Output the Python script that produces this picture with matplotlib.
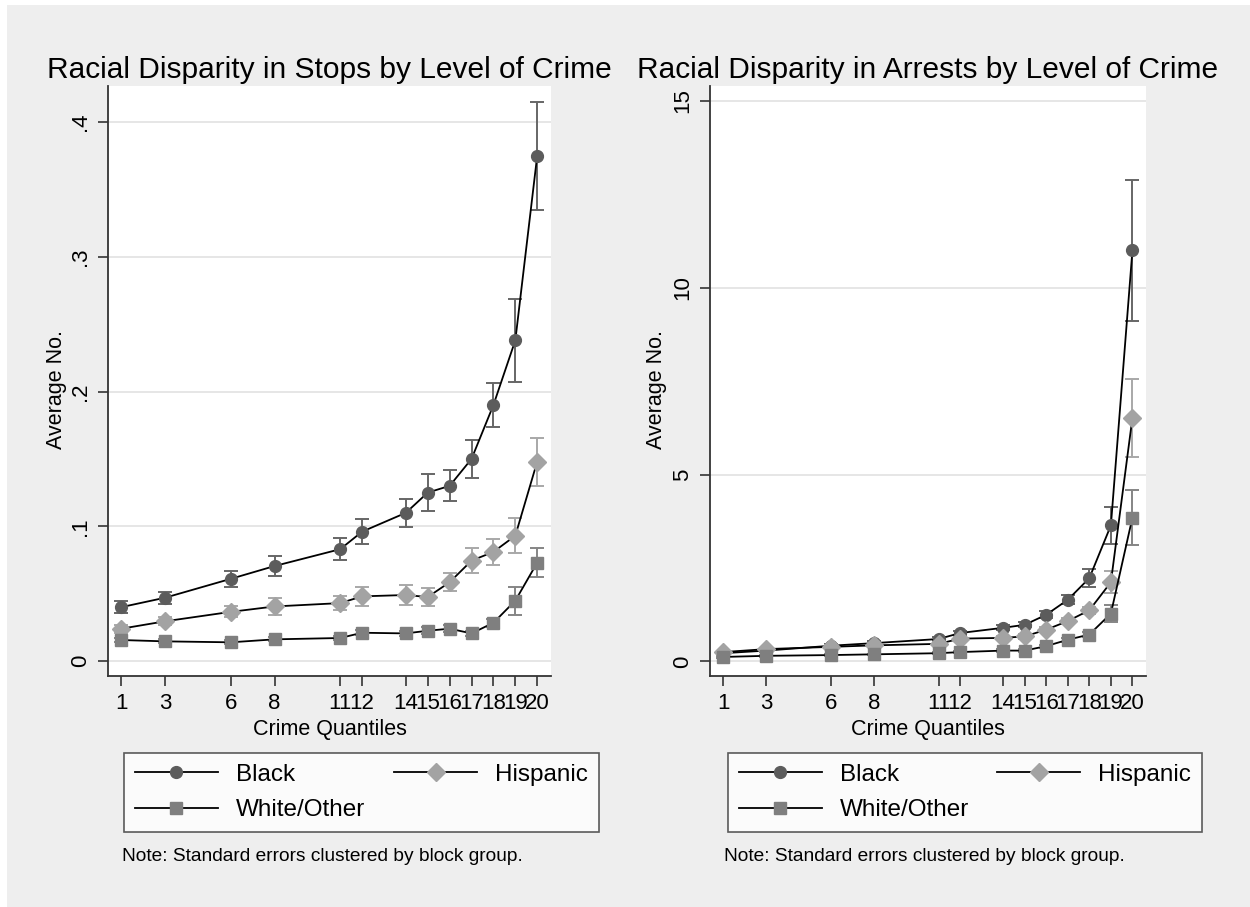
import numpy as np
import matplotlib.pyplot as plt
from matplotlib.lines import Line2D
from matplotlib.patches import Rectangle

plt.rcParams['font.family'] = ['Liberation Sans', 'DejaVu Sans']

quantiles = [1, 3, 6, 8, 11, 12, 14, 15, 16, 17, 18, 19, 20]

# Stops: mean per block group and standard error
stops_black = [0.040, 0.047, 0.061, 0.0705, 0.083, 0.096, 0.110, 0.125, 0.130, 0.150, 0.190, 0.238, 0.375]
stops_black_se = [0.0047, 0.0045, 0.006, 0.0074, 0.0082, 0.0094, 0.0104, 0.0136, 0.0116, 0.0139, 0.0163, 0.031, 0.040]
stops_hisp = [0.024, 0.0295, 0.0365, 0.0405, 0.043, 0.048, 0.049, 0.0475, 0.0585, 0.0745, 0.081, 0.093, 0.148]
stops_hisp_se = [0.003, 0.003, 0.004, 0.006, 0.005, 0.007, 0.0074, 0.007, 0.0067, 0.0094, 0.0099, 0.0129, 0.0178]
stops_white = [0.0156, 0.0146, 0.0139, 0.0161, 0.0171, 0.021, 0.0205, 0.0225, 0.024, 0.0205, 0.0284, 0.0448, 0.073]
stops_white_se = [0.0015, 0.0015, 0.0015, 0.0015, 0.0015, 0.002, 0.002, 0.0025, 0.0025, 0.002, 0.003, 0.0104, 0.011]

# Arrests
arrests_black = [0.22, 0.29, 0.42, 0.49, 0.60, 0.76, 0.90, 0.98, 1.25, 1.65, 2.23, 3.64, 11.0]
arrests_black_se = [0.03, 0.03, 0.04, 0.05, 0.05, 0.06, 0.07, 0.07, 0.09, 0.12, 0.24, 0.49, 1.88]
arrests_hisp = [0.25, 0.33, 0.39, 0.43, 0.47, 0.61, 0.63, 0.67, 0.85, 1.08, 1.37, 2.12, 6.52]
arrests_hisp_se = [0.03, 0.03, 0.04, 0.04, 0.05, 0.05, 0.06, 0.06, 0.07, 0.09, 0.10, 0.29, 1.04]
arrests_white = [0.12, 0.15, 0.17, 0.19, 0.22, 0.25, 0.29, 0.29, 0.41, 0.58, 0.72, 1.28, 3.85]
arrests_white_se = [0.02, 0.02, 0.02, 0.02, 0.03, 0.03, 0.03, 0.03, 0.04, 0.05, 0.06, 0.22, 0.74]

groups = ['Black', 'Hispanic', 'White/Other']
markers = ['o', 'D', 's']
msizes = [8.5, 9.5, 8.5]
mcolors = ['#5c5c5c', '#a3a3a3', '#7f7f7f']
ecolors = ['#666666', '#a8a8a8', '#858585']

fig = plt.figure(figsize=(12.5, 9.07), dpi=100, facecolor='white')
fig.patches.append(Rectangle((7 / 1250, 0), 1, 1 - 5 / 907, transform=fig.transFigure,
                             facecolor='#eeeeee', edgecolor='none', zorder=-10))

panels = [
    dict(rect=[108 / 1250, 1 - 676 / 907, 443 / 1250, 590 / 907],
         title='Racial Disparity in Stops by Level of Crime',
         series=[(stops_black, stops_black_se), (stops_hisp, stops_hisp_se), (stops_white, stops_white_se)],
         ylim=(-0.0111, 0.4267), yticks=[0, 0.1, 0.2, 0.3, 0.4], ylabels=['0', '.1', '.2', '.3', '.4'],
         ylab_x=-0.093, leg=(124, 753, 475, 80), note_x=122),
    dict(rect=[710 / 1250, 1 - 676 / 907, 436 / 1250, 590 / 907],
         title='Racial Disparity in Arrests by Level of Crime',
         series=[(arrests_black, arrests_black_se), (arrests_hisp, arrests_hisp_se), (arrests_white, arrests_white_se)],
         ylim=(-0.39, 15.40), yticks=[0, 5, 10, 15], ylabels=['0', '5', '10', '15'],
         ylab_x=-0.099, leg=(728, 753, 474, 80), note_x=724),
]

for p in panels:
    ax = fig.add_axes(p['rect'])
    ax.set_facecolor('white')
    for (y, se), m, ms, c, ec in zip(p['series'], markers, msizes, mcolors, ecolors):
        ax.errorbar(quantiles, y, yerr=se, fmt='none', ecolor=ec, elinewidth=1.4,
                    capsize=5, capthick=1.4, zorder=2)
        ax.plot(quantiles, y, color='black', lw=1.3, marker=m, ms=ms,
                mfc=c, mec=c, zorder=3)

    ax.set_xlim(0.39, 20.63)
    ax.set_ylim(*p['ylim'])
    ax.set_xticks(quantiles)
    ax.set_xticklabels([str(q) for q in quantiles], fontsize=16)
    ax.set_yticks(p['yticks'])
    ax.set_yticklabels(p['ylabels'], fontsize=16, rotation=90, va='center')
    ax.tick_params(axis='both', direction='out', length=7, width=1.2, color='#333333', pad=5)
    ax.yaxis.grid(True, color='#e6e6e6', lw=1.4)
    ax.set_axisbelow(True)
    for s in ['top', 'right']:
        ax.spines[s].set_visible(False)
    for s in ['left', 'bottom']:
        ax.spines[s].set_color('#333333')
        ax.spines[s].set_linewidth(1.3)

    ax.set_xlabel('Crime Quantiles', fontsize=15.5, labelpad=4)
    ax.set_ylabel('Average No.', fontsize=15.5)
    ax.yaxis.set_label_coords(p['ylab_x'], 0.485)
    ax.set_title(p['title'], fontsize=21.5, pad=6)

    # legend fills column by column: Black / White/Other, then Hispanic
    order = [0, 2, 1]
    handles = [Line2D([], [], color='black', lw=1.3, marker=markers[i], ms=msizes[i],
                      mfc=mcolors[i], mec=mcolors[i]) for i in order]
    labels = [groups[i] for i in order]
    lx, ly, lw, lh = p['leg']
    leg = ax.legend(handles, labels, ncol=2, mode='expand', loc='upper left',
                    bbox_to_anchor=(lx / 1250, 1 - (ly + lh) / 907, lw / 1250, lh / 907),
                    bbox_transform=fig.transFigure, fontsize=17.5, frameon=True,
                    fancybox=False, edgecolor='#333333', handlelength=3.4,
                    handletextpad=0.75, labelspacing=0.55, borderpad=0.45,
                    borderaxespad=0, columnspacing=1.0)
    leg.get_frame().set_linewidth(1.2)
    leg.get_frame().set_facecolor('white')

    fig.text(p['note_x'] / 1250, 1 - 861 / 907, 'Note: Standard errors clustered by block group.',
             fontsize=13.8, ha='left', va='baseline')

fig.savefig('out.png', dpi=100)
